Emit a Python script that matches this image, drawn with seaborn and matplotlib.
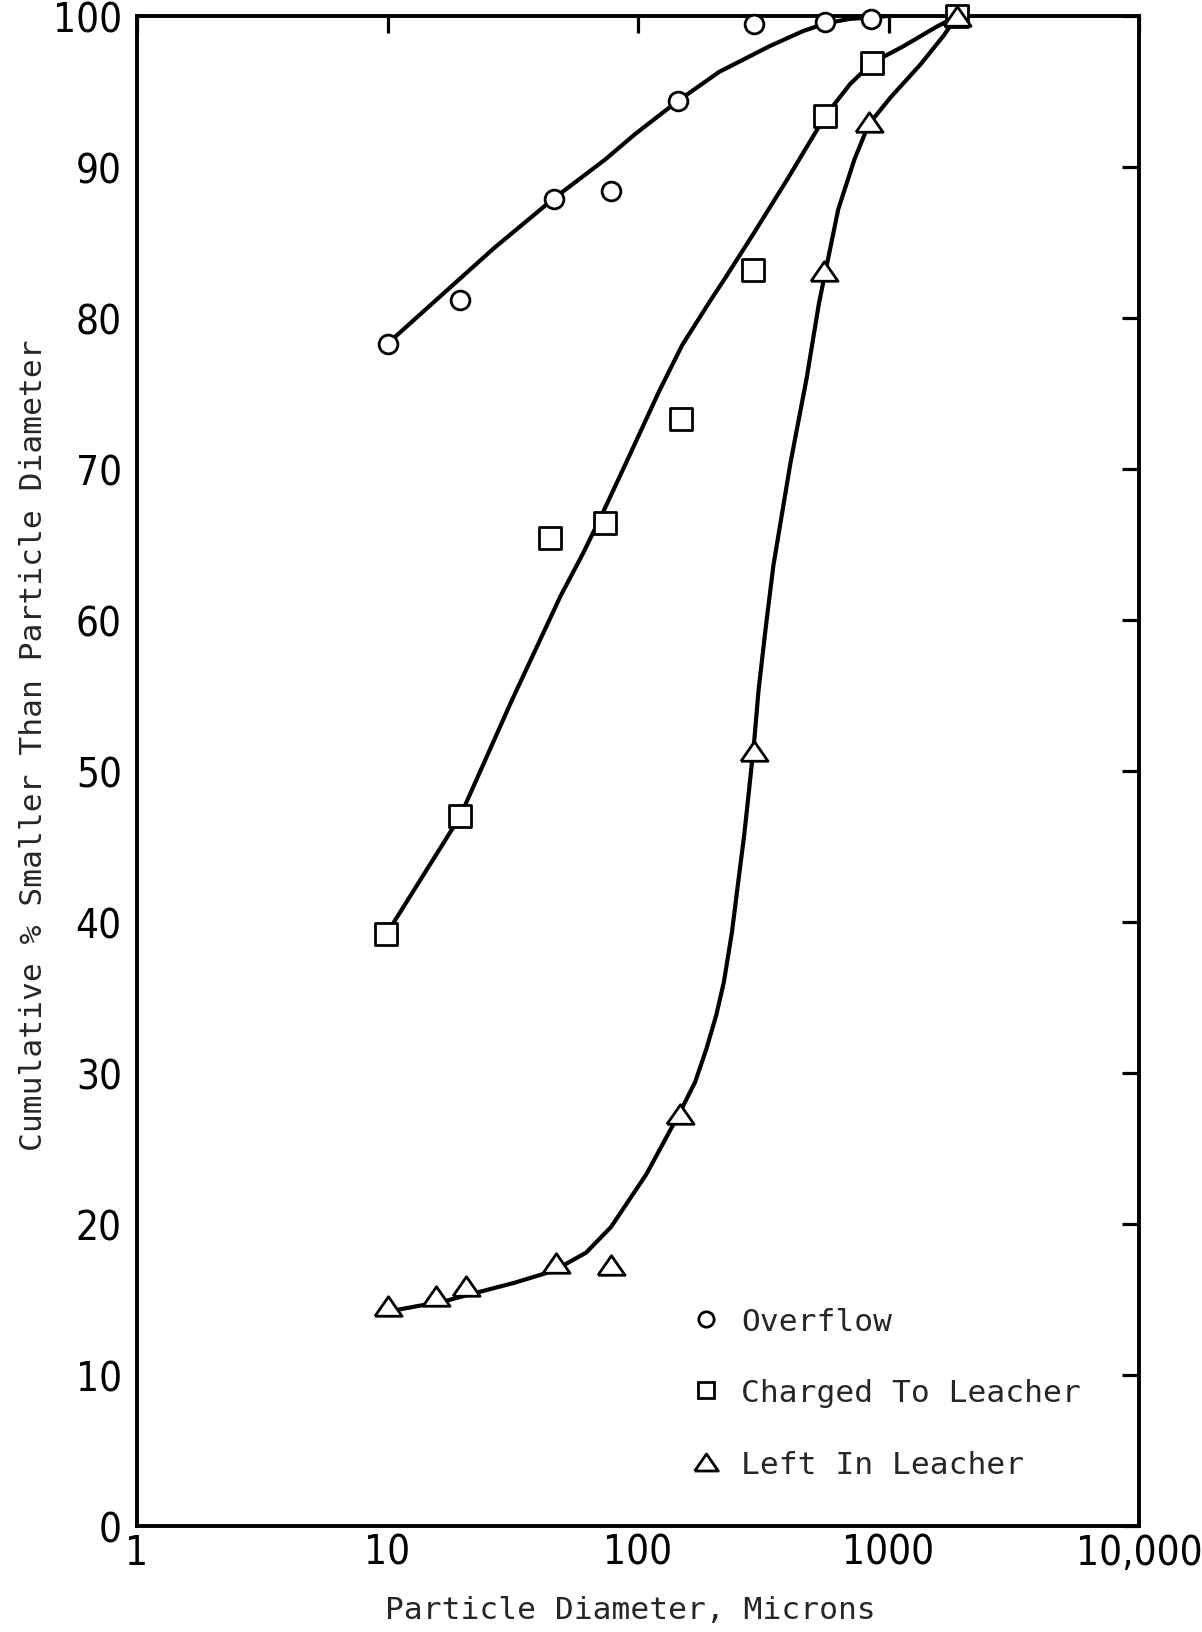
import os
import numpy as np
import pandas as pd
import matplotlib
matplotlib.use("Agg")
import matplotlib.pyplot as plt
import matplotlib.font_manager as fm
from matplotlib.font_manager import FontProperties
from matplotlib.lines import Line2D
from matplotlib.ticker import NullLocator
import seaborn as sns

# ---------------- data ----------------
series_names = ["Overflow", "Charged To Leacher", "Left In Leacher"]

overflow_x = [10, 19.5, 46, 78, 145, 290, 558, 855]
overflow_y = [78.3, 81.2, 87.9, 88.4, 94.4, 99.5, 99.6, 99.8]

charged_x = [9.9, 19.5, 44.6, 74, 149, 289, 560, 861, 1880]
charged_y = [39.2, 47.0, 65.4, 66.4, 73.3, 83.2, 93.4, 96.9, 100.0]

left_x = [10, 15.6, 20.5, 47, 78, 147, 291, 553, 832, 1880]
left_y = [14.6, 15.2, 15.9, 17.4, 17.3, 27.3, 51.3, 83.1, 93.0, 100.0]

# hand-drawn smooth curves
overflow_curve_x = [10, 26.5, 46, 74, 97.7, 145, 211, 335, 456, 558, 695, 1000]
overflow_curve_y = [78.3, 84.6, 87.9, 90.5, 92.2, 94.4, 96.3, 98.0, 99.0, 99.5, 99.8, 100.0]

charged_curve_x = [9.9, 19.5, 31, 49.1, 60.7, 72.8, 92.5, 121, 150, 197, 222, 292,
                   395, 520, 560, 703, 861, 1148, 1560, 1880]
charged_curve_y = [39.2, 47.0, 54.5, 61.6, 64.5, 67.2, 70.9, 75.1, 78.2, 81.3, 82.6, 85.7,
                   89.2, 92.5, 93.4, 95.5, 96.9, 98.0, 99.3, 100.0]

left_curve_x = [10, 17, 22, 32, 46, 62, 78, 108, 147, 169, 187.5, 205, 220, 237, 251, 266,
                281, 291, 303, 324, 347, 406, 471, 528, 630, 731, 832, 1018, 1343, 1660, 1880]
left_curve_y = [14.2, 14.9, 15.4, 16.1, 16.9, 18.1, 19.8, 23.3, 27.4, 29.4, 31.6, 33.8, 36.0,
                39.3, 42.6, 45.9, 49.6, 52.0, 55.4, 59.6, 63.6, 70.4, 76.0, 81.0, 87.2, 90.5,
                92.8, 94.6, 96.8, 98.7, 100.0]

x_ticks = [1, 10, 100, 1000, 10000]
x_tick_labels = ["1", "10", "100", "1000", "10,000"]
y_ticks = list(range(0, 101, 10))
y_tick_labels = [str(v) for v in y_ticks]

x_label = "Particle Diameter, Microns"
y_label = "Cumulative % Smaller Than Particle Diameter"

# ---------------- style ----------------
sns.set_style("white")
plt.rcParams['font.family'] = ['DejaVu Sans Mono', 'DejaVu Sans']


def find_narrow():
    files = [f.fname for f in fm.fontManager.ttflist]
    prefs = ['LiberationSansNarrow-Regular', 'DejaVuSansCondensed.ttf']
    for p in prefs:
        for fn in files:
            b = os.path.basename(fn)
            if p in b and 'Bold' not in b and 'Italic' not in b and 'Oblique' not in b:
                return fn
    return None


narrow = find_narrow()
if narrow:
    tick_fp = FontProperties(fname=narrow, size=29)
else:
    tick_fp = FontProperties(family='DejaVu Sans', size=25)

label_size = 22.5
mono = ['DejaVu Sans Mono', 'DejaVu Sans']

# ---------------- figure ----------------
fig = plt.figure(figsize=(12.02, 16.33), dpi=100)
ax = fig.add_axes([0.1140, 0.0649, 0.8336, 0.9247])

curves = pd.concat([
    pd.DataFrame({"x": overflow_curve_x, "y": overflow_curve_y, "series": series_names[0]}),
    pd.DataFrame({"x": charged_curve_x, "y": charged_curve_y, "series": series_names[1]}),
    pd.DataFrame({"x": left_curve_x, "y": left_curve_y, "series": series_names[2]}),
], ignore_index=True)

sns.lineplot(data=curves, x="x", y="y", units="series", estimator=None, sort=False,
             color="black", linewidth=3.0, ax=ax, clip_on=False, zorder=3)

mew = 2.0
tri_verts = [(-1, -0.72), (1, -0.72), (0, 0.72), (-1, -0.72)]
marker_specs = [
    (overflow_x, overflow_y, "o", 13.5),
    (charged_x, charged_y, "s", 16.0),
    (left_x, left_y, tri_verts, 19.5),
]
for xs, ys, mk, ms in marker_specs:
    sns.scatterplot(x=xs, y=ys, marker=mk, s=ms ** 2, facecolor="white",
                    edgecolor="black", linewidth=mew, ax=ax, clip_on=False,
                    zorder=5, legend=False)

ax.set_xscale("log")
ax.set_xlim(1, 10000)
ax.set_ylim(0, 100)
ax.set_xticks(x_ticks)
ax.set_xticklabels(x_tick_labels)
ax.xaxis.set_minor_locator(NullLocator())
ax.set_yticks(y_ticks)
ax.set_yticklabels(y_tick_labels)

ax.tick_params(axis="both", which="major", direction="in", length=12, width=2.3,
               color="black", top=True, right=True, labelcolor="black")
ax.tick_params(axis="x", pad=5)
ax.tick_params(axis="y", pad=11)
for lab in ax.get_xticklabels() + ax.get_yticklabels():
    lab.set_fontproperties(tick_fp)

for sp in ax.spines.values():
    sp.set_visible(True)
    sp.set_linewidth(2.8)
    sp.set_color("black")

ax.set_xlabel(x_label, fontsize=label_size, family=mono)
ax.set_ylabel(y_label, fontsize=label_size, family=mono)
ax.xaxis.label.set_va("baseline")
ax.xaxis.set_label_coords(0.492, -0.061)
ax.yaxis.set_label_coords(-0.0885, 0.518)

handles = [
    Line2D([], [], ls="none", marker="o", ms=11, mfc="white", mec="black", mew=mew),
    Line2D([], [], ls="none", marker="s", ms=11.5, mfc="white", mec="black", mew=mew),
    Line2D([], [], ls="none", marker=tri_verts, ms=17, mfc="white", mec="black", mew=mew),
]
leg = ax.legend(handles, series_names, loc="upper left",
                bbox_to_anchor=(0.5744, 0.1993), bbox_transform=fig.transFigure,
                frameon=False, borderpad=0, borderaxespad=0, handlelength=1.0,
                handletextpad=0.62, labelspacing=1.36,
                prop={"family": mono, "size": label_size})

fig.savefig("out.png", dpi=100, facecolor="white")
